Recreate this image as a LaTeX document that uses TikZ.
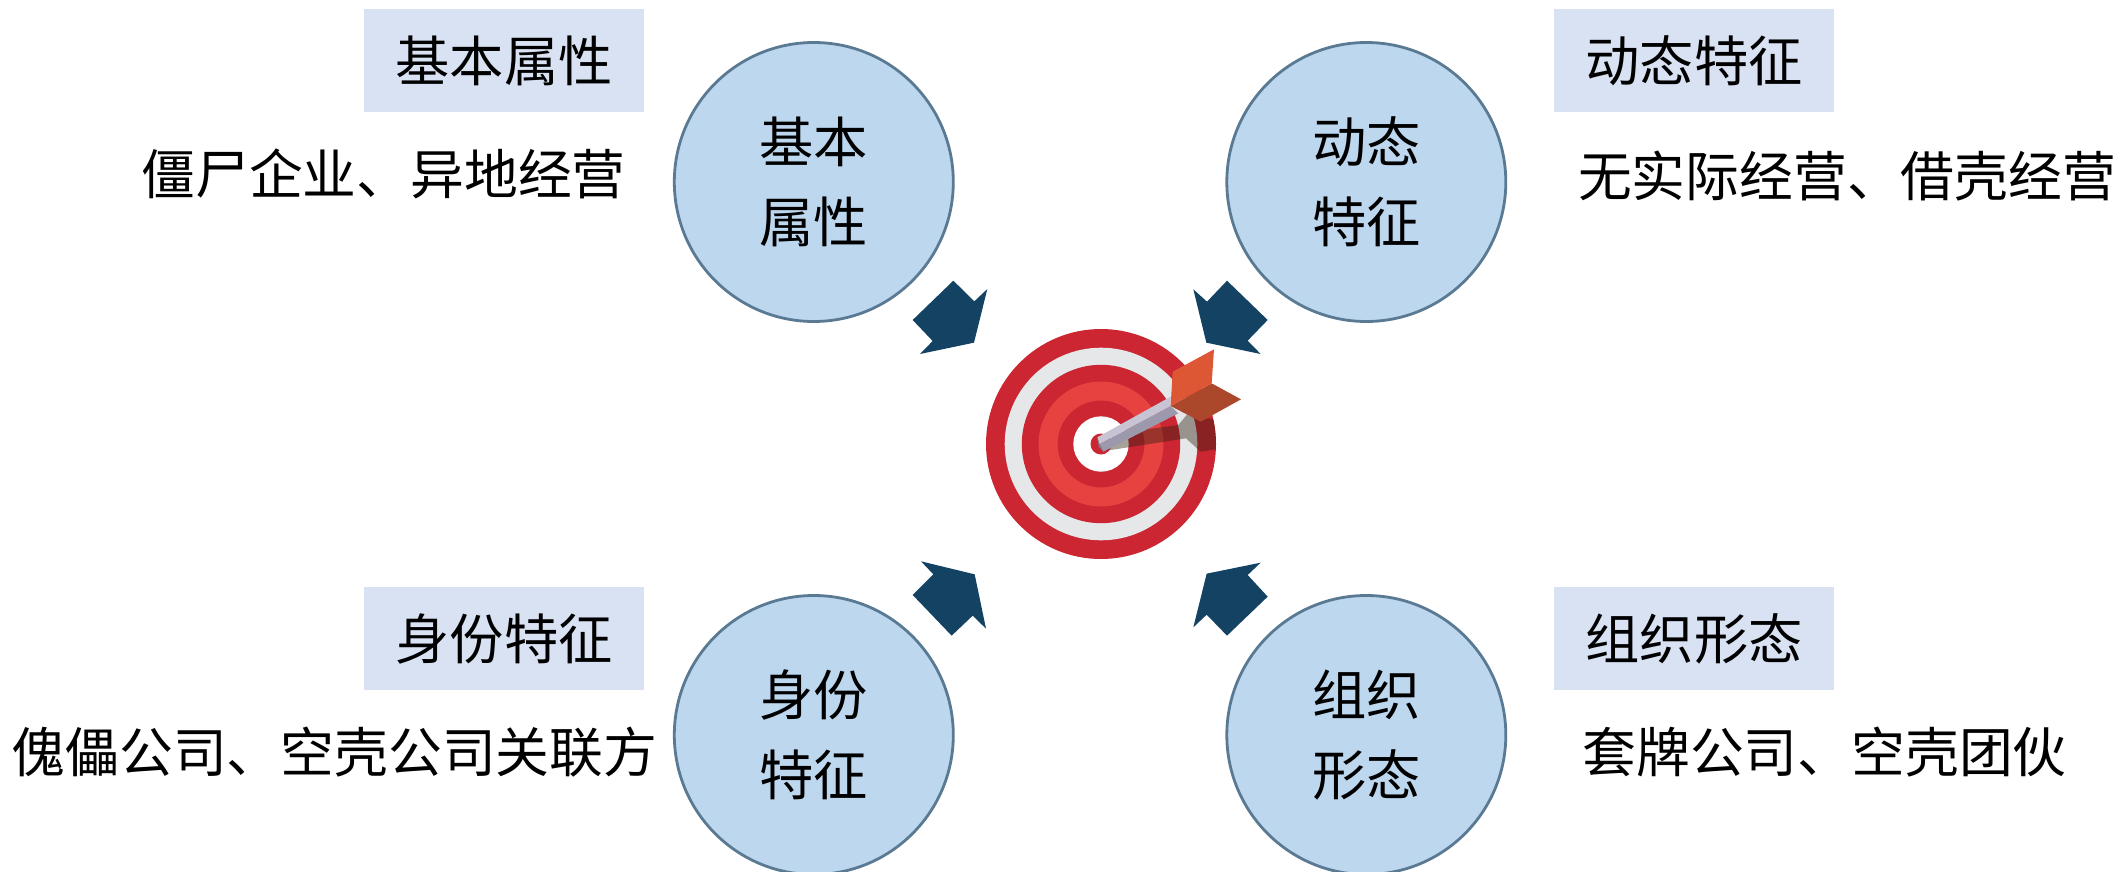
\documentclass[tikz,border=0pt]{standalone}
\usepackage{fontspec}
\setmainfont{Noto Sans CJK SC}
\definecolor{circfill}{HTML}{BDD7EE}
\definecolor{circline}{HTML}{5A7A94}
\definecolor{tagfill}{HTML}{D9E2F3}
\definecolor{arrowblue}{HTML}{134263}
\definecolor{tred}{HTML}{CB2632}
\definecolor{tlight}{HTML}{E74240}
\definecolor{tgrey}{HTML}{E6E7E9}
\definecolor{shaftlight}{HTML}{C9C4D3}
\definecolor{shaftdark}{HTML}{9B99AB}
\definecolor{fletchlight}{HTML}{DE5735}
\definecolor{fletchdark}{HTML}{AB482C}
\newcommand{\up}[1]{\raisebox{4pt}{#1}}
\tikzset{
  txt/.style={inner sep=0pt,font=\fontsize{54.3}{80}\selectfont,text=black},
  desc/.style={inner sep=0pt,font=\fontsize{53.8}{80}\selectfont,text=black},
  bubble/.style={circle,draw=circline,line width=2.8pt,fill=circfill,minimum size=279pt,inner sep=0pt,align=center,txt},
  tag/.style={fill=tagfill,minimum width=280pt,minimum height=103pt,inner sep=0pt,txt},
  bigarrow/.style={fill=arrowblue,draw=none},
}
\begin{document}
\begin{tikzpicture}[x=1pt,y=-1pt]
\useasboundingbox (0,0) rectangle (2119,872);
\clip (0,0) rectangle (2119,872);
% bubbles
\node[bubble] (b1) at (813.8,182) {\up{基本}\\\up{属性}};
\node[bubble] (b2) at (1366.3,182) {\up{动态}\\\up{特征}};
\node[bubble] (b3) at (813.8,735) {\up{身份}\\\up{特征}};
\node[bubble] (b4) at (1366.3,735) {\up{组织}\\\up{形态}};
% tags
\node[tag] (t1) at (504,60.5) {基本属性};
\node[tag] (t2) at (1694,60.5) {动态特征};
\node[tag] (t3) at (504,638.5) {身份特征};
\node[tag] (t4) at (1694,638.5) {组织形态};
% descriptions
\node[desc] (d1) at (383.5,174) {僵尸企业、异地经营};
\node[desc] (d2) at (1847,176) {无实际经营、借壳经营};
\node[desc] (d3) at (334.5,752) {傀儡公司、空壳公司关联方};
\node[desc] (d4) at (1824.5,752) {套牌公司、空壳团伙};
% block arrows
\begin{scope}[shift={(880,260)},x=.33333pt,y=-.33333pt]
\fill[bigarrow] (220,62)--(283,124)--(322,87)--(282,248)--(120,282)--(158,243)--(98,180)--cycle;
\fill[bigarrow] (1041,62)--(981,125)--(940,88)--(979,248)--(1142,282)--(1103,242)--(1163,180)--cycle;
\fill[bigarrow] (98,1005)--(160,943)--(123,904)--(284,943)--(318,1106)--(278,1067)--(215,1127)--cycle;
\fill[bigarrow] (1163,1010)--(1103,945)--(1142,908)--(980,941)--(940,1102)--(980,1064)--(1041,1127)--cycle;
\end{scope}
% target
\coordinate (c) at (1101,444);
\fill[tred] (c) circle (115);
\fill[tgrey] (c) circle (96.3);
\fill[tred] (c) circle (79.2);
\fill[tlight] (c) circle (62.5);
\fill[tred] (c) circle (43.4);
\fill[white] (c) circle (27.7);
\fill[tred] (c) circle (10.5);
% dart
\begin{scope}[shift={(960,320)},x=.33333pt,y=-.33333pt]
\begin{scope}
\clip (423,372) circle (345);
\fill[black!75!brown,opacity=.42] (440,392)--(678,355)--(722,395)--(775,387)--(775,300)--(705,290)--(680,285)--(655,315)--(510,335)--(460,365)--cycle;
\end{scope}
\fill[shaftdark] (418,372)--(632,258)--(655,280)--(430,395)--cycle;
\fill[shaftlight] (412,352)--(632,230)--(632,258)--(418,372)--cycle;
\fill[shaftdark!80!black] (412,352)--(418,372)--(430,395)--(416,380)--cycle;
\fill[fletchdark] (755,190)--(843,238)--(722,305)--(632,258)--cycle;
\fill[fletchlight] (638,155)--(762,88)--(755,190)--(632,258)--cycle;
\end{scope}
\end{tikzpicture}
\end{document}
